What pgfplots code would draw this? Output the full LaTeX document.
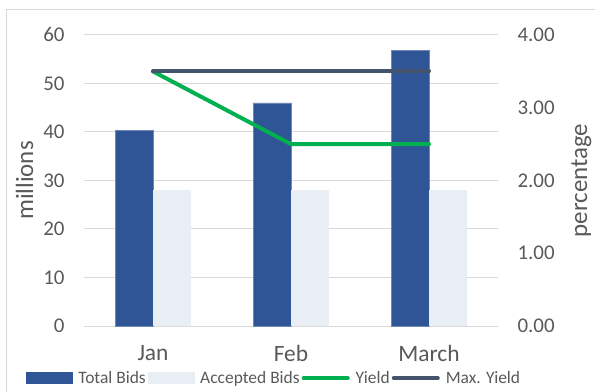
\documentclass[border=0pt]{standalone}
\usepackage{pgfplots}
\pgfplotsset{compat=1.18}
\usepackage{fontspec}
\setmainfont{Carlito}
\definecolor{totalc}{HTML}{2F5597}
\definecolor{accc}{HTML}{E9EDF4}
\definecolor{yieldc}{HTML}{00B050}
\definecolor{maxc}{HTML}{44546A}
\definecolor{gridc}{HTML}{D9D9D9}
\definecolor{txtc}{HTML}{595959}
\definecolor{borderc}{HTML}{D9D9D9}
\begin{document}
\begin{tikzpicture}[x=1bp,y=1bp]
\useasboundingbox (-84bp,-66bp) rectangle (511bp,326bp);
\draw[borderc,line width=1bp] (-77bp,-70bp) -- (-77bp,316bp) -- (515bp,316bp);
\pgfplotsset{
  every tick label/.append style={font=\fontsize{21}{21}\selectfont, text=txtc},
  /pgf/number format/assume math mode=true,
}
\begin{axis}[
  at={(69bp,0bp)}, anchor=origin,
  scale only axis, width=414bp, height=291bp,
  xmin=-0.5, xmax=2.5, ymin=0, ymax=60,
  xtick={0,1,2}, xticklabels={Jan,Feb,March},
  x tick label style={font=\fontsize{23.5}{23.5}\selectfont, text=txtc, yshift=-16bp},
  ytick={0,10,...,60},
  ymajorgrids, grid style={gridc, line width=1bp},
  axis line style={draw=none},
  axis x line*=bottom, axis y line*=left,
  tick style={draw=none},
  y tick label style={xshift=-16bp},
  ylabel={millions}, ylabel style={font=\fontsize{25}{25}\selectfont, text=txtc},
  ylabel shift=3bp,
  clip=false,
]
\draw[gridc, line width=1bp] (axis cs:-0.5,0) -- (axis cs:2.5,0);
\addplot[ybar, bar width=0.275, bar shift=-0.1375, fill=totalc, draw=totalc!70!white, line width=0.5bp]
  coordinates {(0,40.3) (1,46.0) (2,56.8)};
\addplot[ybar, bar width=0.275, bar shift=0.1375, fill=accc, draw=none]
  coordinates {(0,28) (1,28) (2,28)};
\end{axis}
\begin{axis}[
  at={(69bp,0bp)}, anchor=origin,
  scale only axis, width=414bp, height=291bp,
  xmin=-0.5, xmax=2.5, ymin=0, ymax=4,
  xtick=\empty,
  axis y line*=right, axis x line=none,
  axis line style={draw=none},
  tick style={draw=none},
  ytick={0,1,...,4},
  y tick label style={xshift=16bp, /pgf/number format/fixed, /pgf/number format/fixed zerofill, /pgf/number format/precision=2},
  ylabel={percentage}, ylabel style={font=\fontsize{25}{25}\selectfont, text=txtc},
  ylabel shift=10bp,
  legend style={at={(axis description cs:0.459,-0.179)}, anchor=center, draw=none, fill=none,
    font=\fontsize{17.5}{17.5}\selectfont, text=txtc,
    legend columns=4, /tikz/every even column/.append style={column sep=0bp},
    /tikz/every odd column/.append style={column sep=4bp}},
  legend cell align=left,
]
\addlegendimage{legend image code/.code={\fill[totalc] (0bp,-5.5bp) rectangle (46bp,5.5bp);}}
\addlegendentry{Total Bids}
\addlegendimage{legend image code/.code={\fill[accc] (0bp,-5.5bp) rectangle (46bp,5.5bp);}}
\addlegendentry{Accepted Bids}
\addplot[yieldc, line width=4bp, line cap=round, line join=round,
  legend image code/.code={\draw[yieldc, line width=4bp, line cap=round] (2bp,0bp) -- (46bp,0bp);}]
  coordinates {(0,3.5) (1,2.5) (2,2.5)};
\addlegendentry{Yield}
\addplot[maxc, line width=4bp, line cap=round, line join=round,
  legend image code/.code={\draw[maxc, line width=4bp, line cap=round] (2bp,0bp) -- (46bp,0bp);}]
  coordinates {(0,3.5) (1,3.5) (2,3.5)};
\addlegendentry{Max. Yield}
\end{axis}
\end{tikzpicture}
\end{document}
